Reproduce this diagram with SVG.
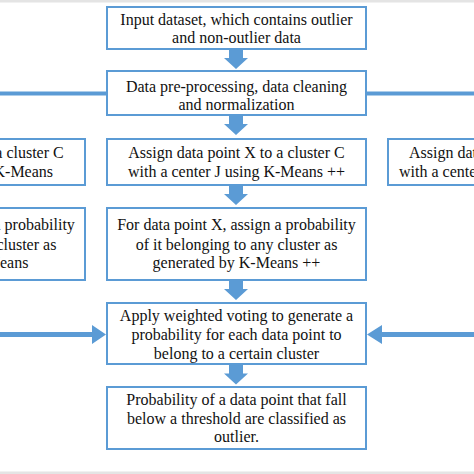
<svg xmlns="http://www.w3.org/2000/svg" width="474" height="474" viewBox="0 0 474 474">
<style>
.box{fill:#fff;stroke:#5B9BD5;stroke-width:2}
.t{font-family:"Liberation Serif","Times New Roman",serif;font-size:16px;fill:#111;text-anchor:middle}
.ts{font-family:"Liberation Serif","Times New Roman",serif;font-size:16px;fill:#111}
.arr{fill:#5B9BD5}
.ln{stroke:#5B9BD5;stroke-width:4;fill:none}
</style>
<defs>
<path id="down" d="M-7,0 H7 V9 H12 L0,20 L-12,9 H-7 Z"/>
</defs>
<rect x="0" y="0" width="474" height="474" fill="#fff"/>
<rect x="0" y="0" width="474" height="2.5" fill="#e4e4e4"/>
<rect x="0" y="471.5" width="474" height="2.5" fill="#e4e4e4"/>
<g id="connectors">
<use href="#down" class="arr" transform="translate(236,49)"/>
<use href="#down" class="arr" transform="translate(236,115)"/>
<use href="#down" class="arr" transform="translate(236,185)"/>
<use href="#down" class="arr" transform="translate(236,280)"/>
<use href="#down" class="arr" transform="translate(236,364.5)"/>
<line class="ln" x1="-5" y1="93.5" x2="107" y2="93.5"/>
<line class="ln" x1="366" y1="93.5" x2="480" y2="93.5"/>
<path class="arr" d="M-5,332 H92 V325 L106,334.5 L92,344 V337 H-5 Z"/>
<path class="arr" d="M479,332 H382 V325 L367,334.5 L382,344 V337 H479 Z"/>
</g>
<g id="n1">
<rect class="box" x="107" y="7" width="259" height="42"/>
<text class="t" x="236.5" y="25">Input dataset, which contains outlier</text>
<text class="t" x="236.5" y="43">and non-outlier data</text>
</g>
<g id="n2">
<rect class="box" x="107" y="71" width="259" height="44"/>
<text class="t" x="236.5" y="92">Data pre-processing, data cleaning</text>
<text class="t" x="236.5" y="110">and normalization</text>
</g>
<g id="n3">
<rect class="box" x="107" y="139" width="259" height="46"/>
<text class="t" x="236.5" y="158">Assign data point X to a cluster C</text>
<text class="t" x="236.5" y="177">with a center J using K-Means ++</text>
</g>
<g id="n3left">
<rect class="box" x="-174" y="139" width="259" height="46"/>
<text class="t" x="-44.5" y="158">Assign data point X to a cluster C</text>
<text class="t" x="-44.5" y="177">with a center J using K-Means</text>
</g>
<g id="n3right">
<rect class="box" x="388" y="139" width="259" height="46"/>
<text class="ts" x="409" y="158">Assign data point X to a cluster C</text>
<text class="ts" x="399" y="177">with a center J using K-Means ++</text>
</g>
<g id="n4">
<rect class="box" x="107" y="208" width="259" height="72"/>
<text class="t" x="236.5" y="230">For data point X, assign a probability</text>
<text class="t" x="236.5" y="249.5">of it belonging to any cluster as</text>
<text class="t" x="236.5" y="268">generated by K-Means ++</text>
</g>
<g id="n4left">
<rect class="box" x="-174" y="208" width="259" height="72"/>
<text class="t" x="-44.5" y="230">For data point X, assign a probability</text>
<text class="t" x="-44.5" y="249.5">of it belonging to any cluster as</text>
<text class="t" x="-44.5" y="268">generated by K-Means</text>
</g>
<g id="n5">
<rect class="box" x="107" y="303" width="259" height="61"/>
<text class="t" x="236.5" y="321">Apply weighted voting to generate a</text>
<text class="t" x="236.5" y="340">probability for each data point to</text>
<text class="t" x="236.5" y="358.5">belong to a certain cluster</text>
</g>
<g id="n6">
<rect class="box" x="107" y="387" width="259" height="62"/>
<text class="t" x="236.5" y="405">Probability of a data point that fall</text>
<text class="t" x="236.5" y="423.5">below a threshold are classified as</text>
<text class="t" x="236.5" y="442">outlier.</text>
</g>
</svg>
